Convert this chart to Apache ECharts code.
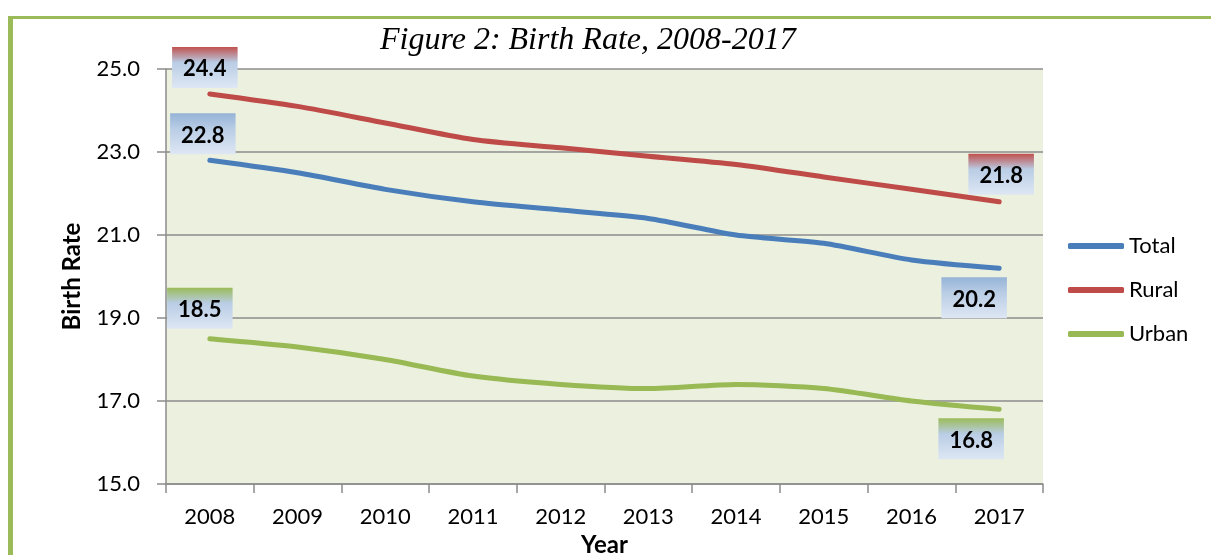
<!DOCTYPE html>
<html><head><meta charset="utf-8">
<script src="https://cdn.jsdelivr.net/npm/echarts@6/dist/echarts.min.js"></script>
<style>html,body{margin:0;padding:0;background:#fff}#c{width:1211px;height:555px}</style>
</head><body><div id="c"></div>
<script>
const years = ['2008','2009','2010','2011','2012','2013','2014','2015','2016','2017'];
const total = [22.8,22.5,22.1,21.8,21.6,21.4,21.0,20.8,20.4,20.2];
const rural = [24.4,24.1,23.7,23.3,23.1,22.9,22.7,22.4,22.1,21.8];
const urban = [18.5,18.3,18.0,17.6,17.4,17.3,17.4,17.3,17.0,16.8];
const seriesNames = ['Total','Rural','Urban'];
const yMin = 15, yMax = 25, yStep = 2;

const colors = {Total:'#4a7ebb', Rural:'#be4b48', Urban:'#98b954'};
const gradTop = {Total:'#95b3d7', Rural:'#c0504d', Urban:'#9bbb59'};
const font = 'Lato, "Open Sans", sans-serif';

function boxBg(name){
  return new echarts.graphic.LinearGradient(0,0,0,1,[
    {offset:0,color:gradTop[name]},
    {offset:0.38,color:'#b9cde5'},
    {offset:1,color:'#dee7f4'}
  ]);
}
function lbl(name, position, distance, dx){
  return {show:true, position, distance, offset:[dx,0],
    formatter:p=>p.value.toFixed(1),
    color:'#000', fontFamily:font, fontWeight:'bold', fontSize:22, lineHeight:23,
    backgroundColor:boxBg(name), padding:[11,11,7,11]};
}
function mk(vals, name, first, last){
  return vals.map((v,i)=>{
    if(i===0) return {value:v, label:first};
    if(i===vals.length-1) return {value:v, label:last};
    return {value:v};
  });
}
const chart = echarts.init(document.getElementById('c'));
const mkSeries = (name, vals, first, last) => ({
  name, type:'line', data:mk(vals,name,first,last), smooth:0.25,
  symbol:'circle', symbolSize:0, showSymbol:true,
  lineStyle:{color:colors[name], width:5, cap:'round'},
  itemStyle:{color:colors[name]},
  label:{show:false}, emphasis:{disabled:true}
});
chart.setOption({
  animation:false,
  title:{text:'Figure 2: Birth Rate, 2008-2017', left:375, top:20,
    textStyle:{fontFamily:'"Liberation Serif", "Times New Roman", serif', fontStyle:'italic', fontWeight:'normal', fontSize:32, color:'#000'}},
  graphic:[
    {type:'rect', shape:{x:8,y:16,width:5,height:539}, style:{fill:'#9bbb59'}},
    {type:'rect', shape:{x:8,y:16,width:1203,height:3}, style:{fill:'#9bbb59'}}
  ],
  legend:{orient:'vertical', left:1063, top:230, itemGap:22, itemWidth:56, itemHeight:6, icon:'roundRect',
    textStyle:{fontFamily:font, fontSize:22, color:'#000'}, data:seriesNames},
  grid:{left:166, right:168, top:69, bottom:71, show:true, backgroundColor:'#ebf0df', borderWidth:0,
    outerBoundsMode:'none', containLabel:false},
  xAxis:{type:'category', data:years, boundaryGap:true,
    name:'Year', nameLocation:'middle', nameGap:46,
    nameTextStyle:{fontFamily:font, fontWeight:'bold', fontSize:24, color:'#000'},
    axisLine:{lineStyle:{color:'#8c8c8c', width:1.5}},
    axisTick:{show:true, length:9, lineStyle:{color:'#8c8c8c', width:1.5}},
    axisLabel:{margin:22, fontFamily:font, fontSize:22, color:'#000'}},
  yAxis:{type:'value', min:yMin, max:yMax, interval:yStep,
    name:'Birth Rate', nameLocation:'middle', nameGap:82, nameRotate:90,
    nameTextStyle:{fontFamily:font, fontWeight:'bold', fontSize:24, color:'#000'},
    axisLine:{show:true, lineStyle:{color:'#8c8c8c', width:1.5}},
    axisTick:{show:true, length:9, lineStyle:{color:'#8c8c8c', width:1.5}},
    splitLine:{lineStyle:{color:'#8c8c8c', width:1.5}},
    axisLabel:{margin:26, fontFamily:font, fontSize:22, color:'#000', formatter:v=>v.toFixed(1)}},
  series:[
    mkSeries('Total', total, lbl('Total','top',6,-7), lbl('Total','bottom',9,-25)),
    mkSeries('Rural', rural, lbl('Rural','top',6,-5), lbl('Rural','top',7,2)),
    mkSeries('Urban', urban, lbl('Urban','top',10,-10), lbl('Urban','bottom',9,-28))
  ]
});
</script></body></html>
